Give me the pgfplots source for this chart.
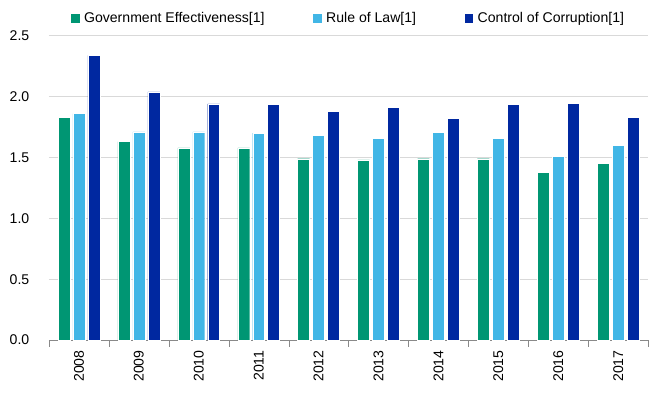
\documentclass[border={4pt 5pt 1pt 5pt}]{standalone}
\usepackage{pgfplots}
\pgfplotsset{compat=1.18}
\usepackage{fontspec}
\setmainfont{Liberation Sans}

\definecolor{geff}{HTML}{009673}
\definecolor{rlaw}{HTML}{41B6E6}
\definecolor{ccor}{HTML}{0028A0}
\definecolor{gridgray}{HTML}{D9D9D9}
\definecolor{axgray}{HTML}{898989}

\begin{document}
\begin{tikzpicture}
\begin{axis}[
    scale only axis,
    width=451pt, height=229pt,
    ybar=2.25pt, bar width=9pt,
    xmin=-0.5, xmax=9.5,
    ymin=0, ymax=2.5,
    ytick={0,0.5,...,2.5},
    xtick={0,...,9},
    xticklabels={2008,2009,2010,2011,2012,2013,2014,2015,2016,2017},
    x tick label style={rotate=90, anchor=east},
    major x tick style={draw=none},
    minor xtick={-0.5,0.5,...,9.5},
    minor x tick style={axgray},
    minor tick length=5pt,
    tick align=outside,
    y tick style={draw=none},
    ymajorgrids, grid style={gridgray, line width=0.8pt},
    axis x line*=bottom, axis y line*=left,
    x axis line style={axgray, -},
    y axis line style={draw=none},
    tick label style={font=\fontsize{10.6}{12}\selectfont, text=black},
    yticklabel style={xshift=-7pt, /pgf/number format/.cd, fixed, fixed zerofill, precision=1},
    /pgf/number format/assume math mode=true,
    legend style={at={(0.5,1.02)}, anchor=south, draw=none, legend columns=-1,
        font=\fontsize{10.6}{12}\selectfont,
        /tikz/every odd column/.append style={column sep=1pt},
        /tikz/every even column/.append style={column sep=34pt}},
    legend image code/.code={\fill[#1] (0pt,-3.5pt) rectangle (7pt,3.5pt);},
    clip=false,
]
\addplot[fill=geff, draw=white, line width=0.3pt] coordinates {
 (0,1.83) (1,1.63) (2,1.58) (3,1.58) (4,1.49) (5,1.48) (6,1.49) (7,1.49) (8,1.38) (9,1.45)};
\addlegendentry{Government Effectiveness[1]}
\addplot[fill=rlaw, draw=white, line width=0.3pt] coordinates {
 (0,1.86) (1,1.71) (2,1.71) (3,1.70) (4,1.68) (5,1.66) (6,1.705) (7,1.66) (8,1.51) (9,1.60)};
\addlegendentry{Rule of Law[1]}
\addplot[fill=ccor, draw=white, line width=0.3pt] coordinates {
 (0,2.34) (1,2.04) (2,1.94) (3,1.935) (4,1.88) (5,1.91) (6,1.82) (7,1.935) (8,1.945) (9,1.83)};
\addlegendentry{Control of Corruption[1]}
\end{axis}
\end{tikzpicture}
\end{document}
